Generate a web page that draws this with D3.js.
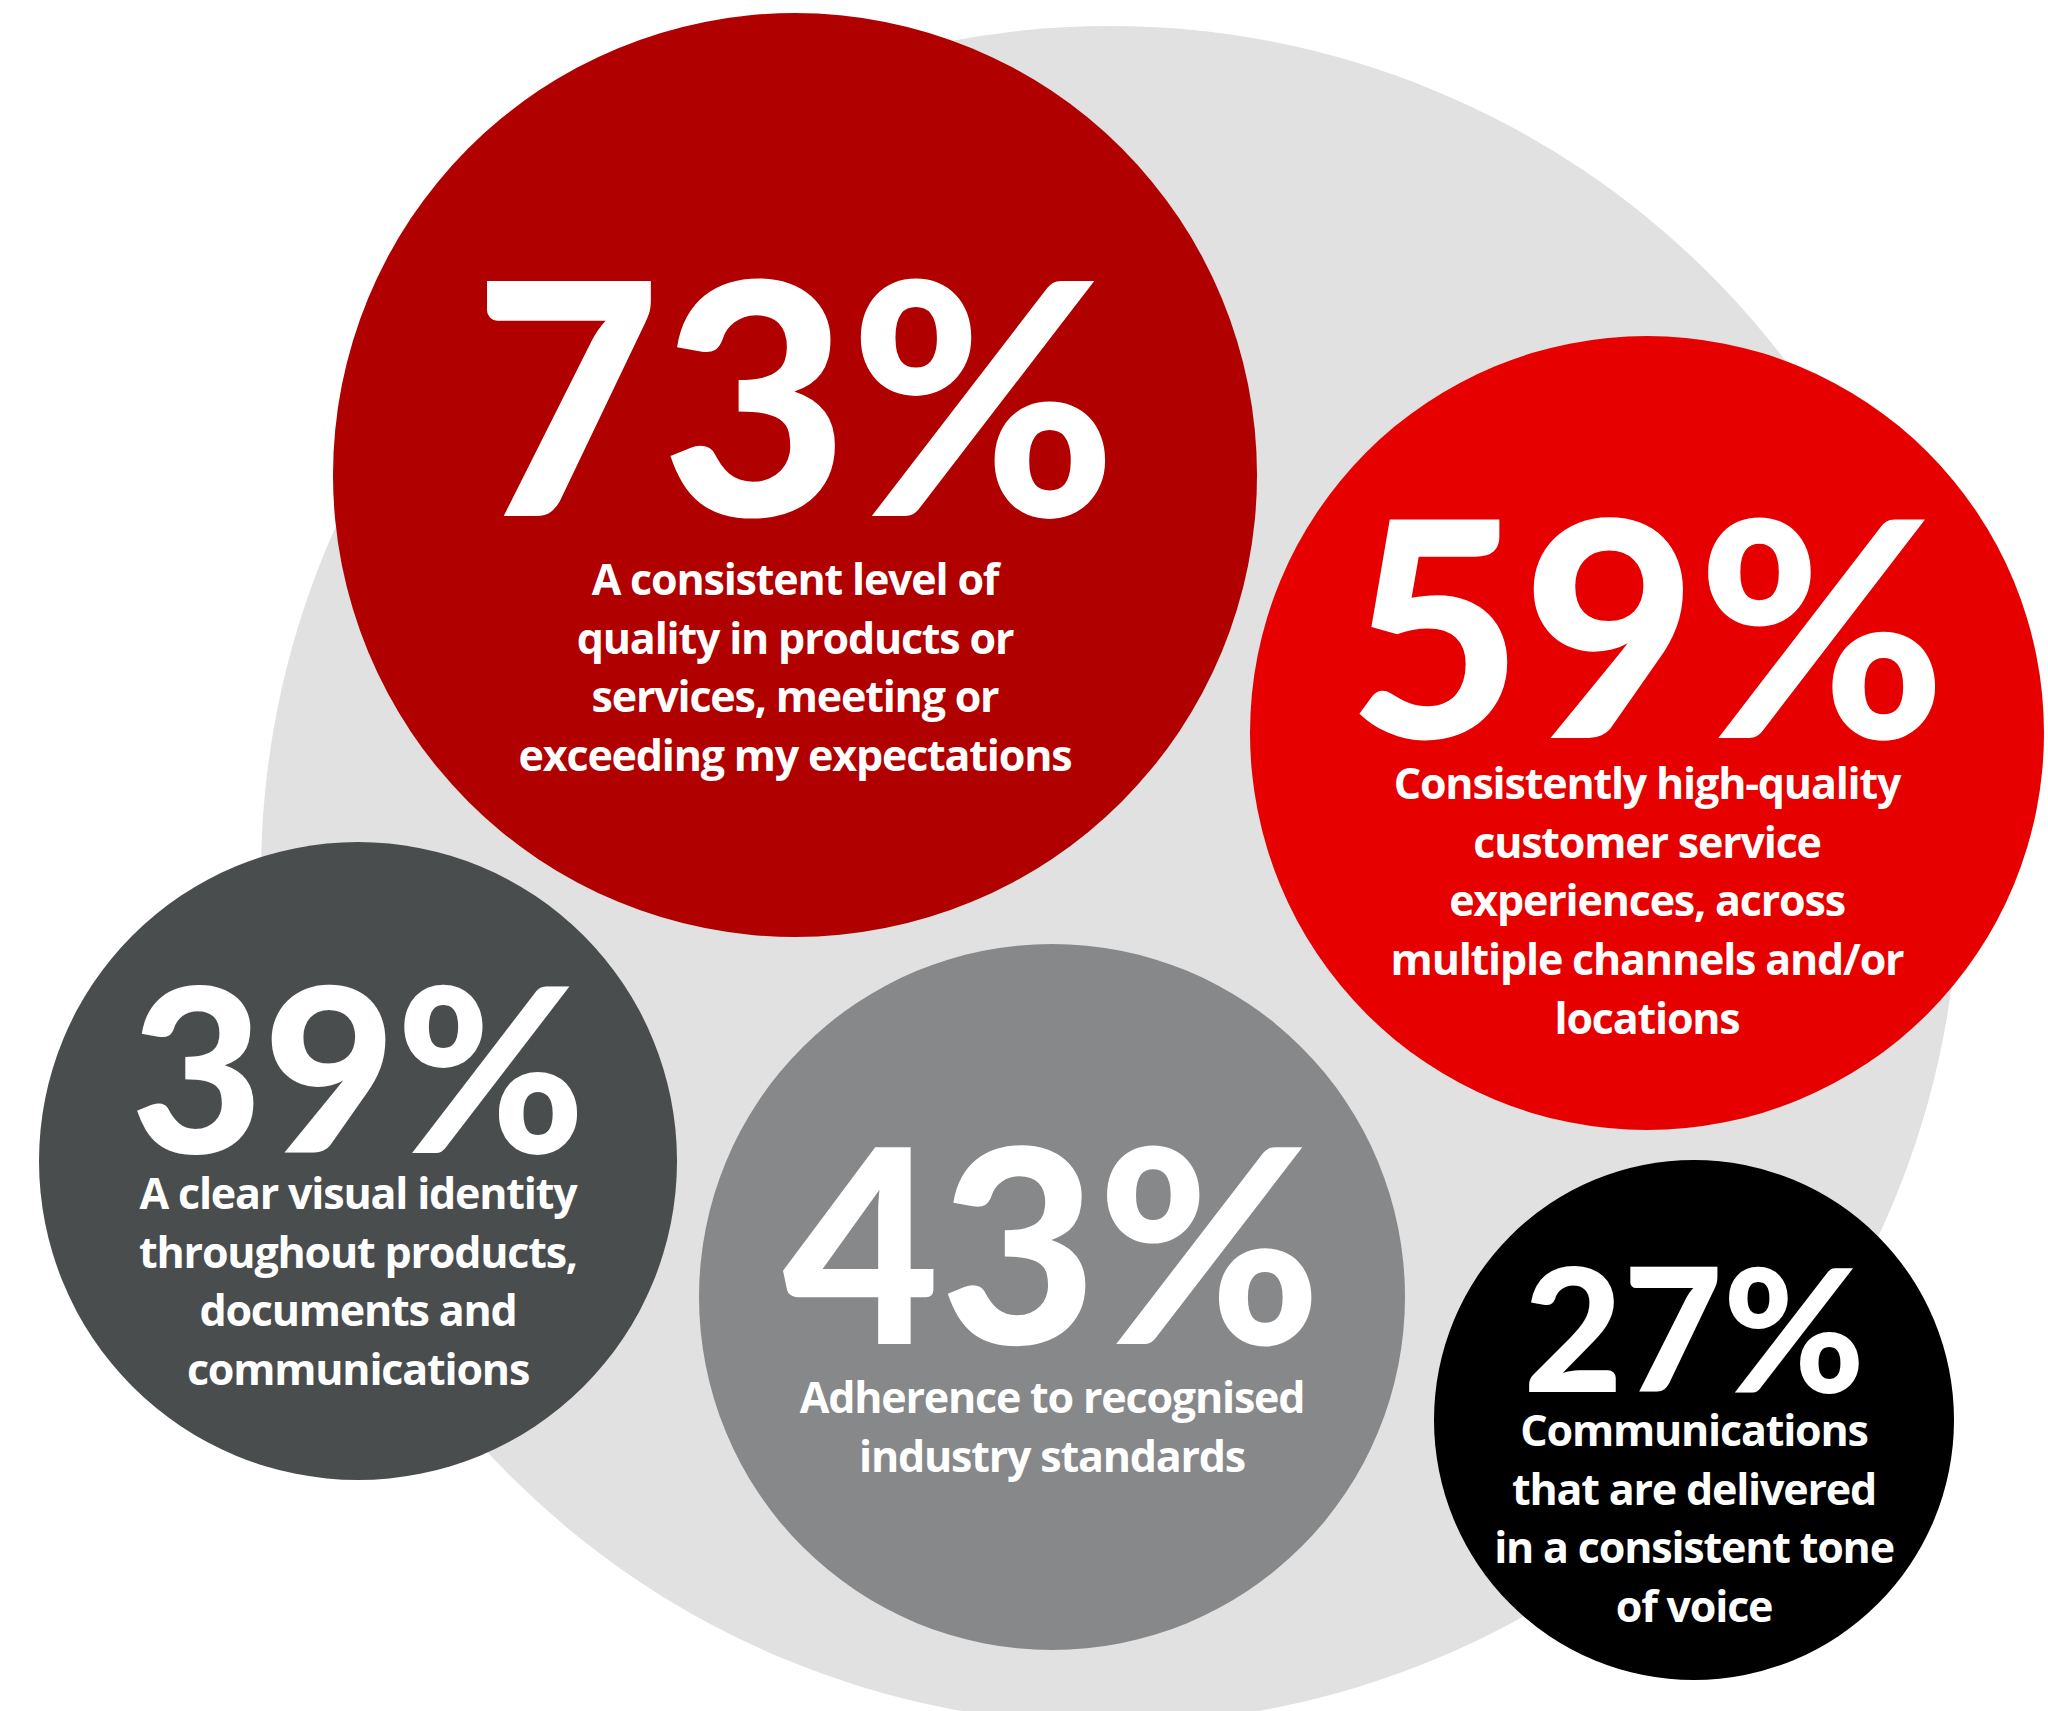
<!DOCTYPE html>
<html>
<head>
<meta charset="utf-8">
<script src="https://cdn.jsdelivr.net/npm/d3@7"></script>
<style>
  html, body { margin: 0; padding: 0; background: #fff; }
  svg { display: block; }
</style>
</head>
<body>
<div class="plot"></div>
<script>
// survey results, share of respondents (%)
var values = [73, 59, 39, 43, 27];

var labels = [
    ["A consistent level of", "quality in products or", "services, meeting or", "exceeding my expectations"],
    ["Consistently high-quality", "customer service", "experiences, across", "multiple channels and/or", "locations"],
    ["A clear visual identity", "throughout products,", "documents and", "communications"],
    ["Adherence to recognised", "industry standards"],
    ["Communications", "that are delivered", "in a consistent tone", "of voice"]
];

var colors = ["#b00000", "#e60000", "#4a4d4e", "#87888a", "#000000"];

// where each bubble sits in the picture, and its text offsets from the centre
var layout = [
    {cx: 795,  cy: 475,  numSize: 324, numDy: 41,  labelDy: 120},
    {cx: 1647, cy: 733,  numSize: 301, numDy: 5,   labelDy: 66},
    {cx: 358,  cy: 1161, numSize: 229, numDy: -8,  labelDy: 48},
    {cx: 1052, cy: 1297, numSize: 271, numDy: 47,  labelDy: 116},
    {cx: 1694, cy: 1420, numSize: 172, numDy: -28, labelDy: 26}
];

var W = 2048, H = 1711,
    lineH = 58.7;

var svg = d3.select('.plot').append('svg')
    .attr('width', W)
    .attr('height', H);

// bubble size grows with the value (designer's sizing is not strictly linear)
var scaleRadius = d3.scaleLinear()
    .domain([27, 39, 43, 59, 73])
    .range([260, 319, 353, 397, 462]);

// big grey backdrop
svg.append('circle')
    .attr('cx', 1110)
    .attr('cy', 875)
    .attr('r', 849)
    .attr('fill', '#e1e1e1');

var data = values.map(function(v, i){
    return {value: v, lines: labels[i], color: colors[i], pos: layout[i]};
});

var bubble = svg.selectAll('g.bubble')
    .data(data)
    .enter().append('g')
    .attr('class', 'bubble')
    .attr('transform', function(d){ return 'translate(' + d.pos.cx + ',' + d.pos.cy + ')'; });

bubble.append('circle')
    .attr('r', function(d){ return scaleRadius(d.value); })
    .attr('fill', function(d){ return d.color; });

bubble.append('text')
    .attr('y', function(d){ return d.pos.numDy; })
    .attr('text-anchor', 'middle')
    .attr('fill', '#fff')
    .style('font-family', 'Lato, sans-serif')
    .style('font-weight', 900)
    .style('font-size', function(d){ return d.pos.numSize + 'px'; })
    .text(function(d){ return d.value + '%'; });

bubble.append('text')
    .attr('text-anchor', 'middle')
    .attr('fill', '#fff')
    .style('font-family', '"Open Sans", sans-serif')
    .style('font-weight', 700)
    .style('font-size', '43px')
    .style('letter-spacing', '-1.2px')
    .selectAll('tspan')
    .data(function(d){
        return d.lines.map(function(l, j){ return {t: l, y: d.pos.labelDy + j * lineH}; });
    })
    .enter().append('tspan')
    .attr('x', 0)
    .attr('y', function(d){ return d.y; })
    .text(function(d){ return d.t; });
</script>
</body>
</html>
